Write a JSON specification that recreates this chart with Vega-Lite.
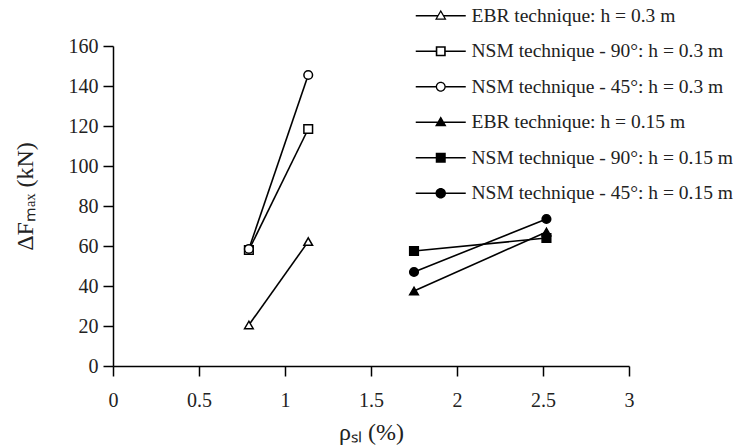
{
  "$schema": "https://vega.github.io/schema/vega-lite/v6.json",
  "autosize": {"type": "none"},
  "width": 516,
  "height": 320,
  "padding": {"left": 113, "top": 46, "right": 110, "bottom": 82},
  "background": "white",
  "config": {
    "view": {"stroke": null},
    "axis": {
      "grid": false,
      "domainColor": "black",
      "domainWidth": 1.5,
      "tickColor": "black",
      "tickWidth": 1.5,
      "tickSize": 10,
      "labelFont": "Liberation Serif",
      "labelFontSize": 20,
      "labelColor": "#222",
      "titleFont": "Liberation Serif",
      "titleFontSize": 24,
      "titleFontWeight": "normal",
      "titleColor": "#222"
    }
  },
  "data": {
    "values": [
      {"series": "EBR technique: h = 0.3 m", "rho": 0.79, "dF": 20.5},
      {"series": "EBR technique: h = 0.3 m", "rho": 1.135, "dF": 62.2},
      {"series": "NSM technique - 90°: h = 0.3 m", "rho": 0.79, "dF": 58},
      {"series": "NSM technique - 90°: h = 0.3 m", "rho": 1.135, "dF": 118.5},
      {"series": "NSM technique - 45°: h = 0.3 m", "rho": 0.79, "dF": 58.5},
      {"series": "NSM technique - 45°: h = 0.3 m", "rho": 1.135, "dF": 145.5},
      {"series": "EBR technique: h = 0.15 m", "rho": 1.75, "dF": 37.5},
      {"series": "EBR technique: h = 0.15 m", "rho": 2.52, "dF": 67},
      {"series": "NSM technique - 90°: h = 0.15 m", "rho": 1.75, "dF": 57.5},
      {"series": "NSM technique - 90°: h = 0.15 m", "rho": 2.52, "dF": 64},
      {"series": "NSM technique - 45°: h = 0.15 m", "rho": 1.75, "dF": 47},
      {"series": "NSM technique - 45°: h = 0.15 m", "rho": 2.52, "dF": 73.5}
    ]
  },
  "encoding": {
    "x": {
      "field": "rho", "type": "quantitative",
      "scale": {"domain": [0, 3], "nice": false, "zero": false},
      "axis": {"values": [0, 0.5, 1, 1.5, 2, 2.5, 3], "format": "~g", "labelPadding": 14, "title": "ρₛₗ (%)", "titlePadding": 10, "labelFlush": false}
    },
    "y": {
      "field": "dF", "type": "quantitative",
      "scale": {"domain": [0, 160], "nice": false},
      "axis": {"values": [0, 20, 40, 60, 80, 100, 120, 140, 160], "labelPadding": 5, "title": "ΔFₘₐₓ (kN)", "titleX": -76, "titleY": 150, "labelFlush": false}
    }
  },
  "layer": [
    {
      "mark": {"type": "line", "color": "black", "strokeWidth": 1.6},
      "encoding": {"detail": {"field": "series"}}
    },
    {
      "mark": {"type": "point", "filled": false, "stroke": "black", "strokeWidth": 1.5, "size": 75, "opacity": 1},
      "encoding": {
        "shape": {
          "field": "series", "type": "nominal", "legend": null,
          "scale": {
            "domain": ["EBR technique: h = 0.3 m", "NSM technique - 90°: h = 0.3 m", "NSM technique - 45°: h = 0.3 m", "EBR technique: h = 0.15 m", "NSM technique - 90°: h = 0.15 m", "NSM technique - 45°: h = 0.15 m"],
            "range": ["triangle-up", "square", "circle", "triangle-up", "square", "circle"]
          }
        },
        "fill": {
          "field": "series", "type": "nominal", "legend": null,
          "scale": {
            "domain": ["EBR technique: h = 0.3 m", "NSM technique - 90°: h = 0.3 m", "NSM technique - 45°: h = 0.3 m", "EBR technique: h = 0.15 m", "NSM technique - 90°: h = 0.15 m", "NSM technique - 45°: h = 0.15 m"],
            "range": ["white", "white", "white", "black", "black", "black"]
          }
        }
      }
    },
    {
      "mark": {"type": "point", "filled": true, "color": "black", "size": 100, "opacity": 0},
      "encoding": {
        "shape": {
          "field": "series", "type": "nominal",
          "scale": {
            "domain": ["EBR technique: h = 0.3 m", "NSM technique - 90°: h = 0.3 m", "NSM technique - 45°: h = 0.3 m", "EBR technique: h = 0.15 m", "NSM technique - 90°: h = 0.15 m", "NSM technique - 45°: h = 0.15 m"],
            "range": [
              "M-5,-0.13H-0.6V0.13H-5ZM0.6,-0.13H5V0.13H0.6ZM0,-1.2L1.15,0.8H-1.15ZM0,-0.7L-0.73,0.56H0.73Z",
              "M-5,-0.16H-1V0.16H-5ZM1,-0.16H5V0.16H1ZM-1,-1H1V1H-1ZM-0.68,-0.68V0.68H0.68V-0.68Z",
              "M-5,-0.13H-1V0.13H-5ZM1,-0.13H5V0.13H1ZM-1,0A1,1,0,1,1,1,0A1,1,0,1,1,-1,0ZM-0.74,0A0.74,0.74,0,1,0,0.74,0A0.74,0.74,0,1,0,-0.74,0Z",
              "M-5,-0.16H-0.6V0.16H-5ZM0.6,-0.16H5V0.16H0.6ZM0,-1.2L1.15,0.8H-1.15Z",
              "M-5,-0.16H-1V0.16H-5ZM1,-0.16H5V0.16H1ZM-1,-1H1V1H-1Z",
              "M-5,-0.16H-1V0.16H-5ZM1,-0.16H5V0.16H1ZM-1.05,0A1.05,1.05,0,1,1,1.05,0A1.05,1.05,0,1,1,-1.05,0Z"
            ]
          },
          "legend": {
            "orient": "none", "legendX": 318, "legendY": -40, "title": null, "padding": 0,
            "symbolOpacity": 1, "symbolFillColor": "black", "symbolStrokeWidth": 0, "symbolSize": 100,
            "labelFont": "Liberation Serif", "labelFontSize": 19.5, "labelColor": "#222", "labelOffset": 21,
            "rowPadding": 14.5, "labelLimit": 400,
            "encode": {"symbols": {"update": {"fill": {"value": "black"}, "strokeWidth": {"value": 0}, "opacity": {"value": 1}, "fillOpacity": {"value": 1}}}}
          }
        }
      }
    }
  ],
  "resolve": {"scale": {"shape": "independent", "fill": "independent"}}
}
